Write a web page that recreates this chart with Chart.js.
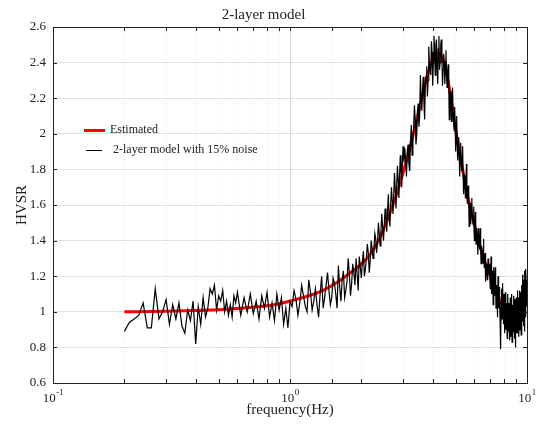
<!DOCTYPE html>
<html>
<head>
<meta charset="utf-8">
<script src="https://cdn.jsdelivr.net/npm/chart.js@4.4.1/dist/chart.umd.min.js"></script>
<style>
    html, body { margin: 0; padding: 0; background: #fff; }
    #wrap { width: 542px; height: 428px; }
</style>
</head>
<body>
<div id="wrap"><canvas id="chart" width="542" height="428"></canvas></div>
<script>
// estimated (model) curve
const estFreq = [0.2, 0.3, 0.4, 0.5, 0.6, 0.7, 0.8, 0.9, 1.0, 1.2, 1.4, 1.6, 1.8, 2.0, 2.2, 2.4, 2.6, 2.8, 3.0,
    3.2, 3.4, 3.6, 3.8, 4.0, 4.1, 4.2, 4.3, 4.4, 4.6, 4.8, 5.0, 5.3, 5.6, 6.0, 6.5, 7.0, 7.5, 8.0, 8.5, 9.0, 9.5, 10];
const estHvsr = [1.000, 1.003, 1.007, 1.012, 1.018, 1.025, 1.034, 1.045, 1.06, 1.09, 1.125, 1.17, 1.22, 1.27, 1.33, 1.42, 1.53, 1.65, 1.78,
    1.92, 2.06, 2.20, 2.33, 2.42, 2.45, 2.455, 2.45, 2.42, 2.33, 2.18, 2.02, 1.83, 1.66, 1.49, 1.32, 1.20, 1.10, 1.02, 0.97, 0.96, 1.01, 1.12];

// noisy synthetic curve
const noiseFreq = [
    0.20, 0.21, 0.22, 0.23, 0.24, 0.25, 0.26, 0.27, 0.28, 0.29,
    0.30, 0.31, 0.32, 0.33, 0.34, 0.35, 0.36, 0.37, 0.38, 0.39,
    0.40, 0.41, 0.42, 0.43, 0.44, 0.45, 0.46, 0.47, 0.48, 0.49,
    0.50, 0.51, 0.52, 0.53, 0.54, 0.55, 0.56, 0.57, 0.58, 0.59, 0.60,
    0.62, 0.64, 0.66, 0.68, 0.70, 0.72, 0.74, 0.76, 0.78, 0.80,
    0.82, 0.84, 0.86, 0.88, 0.90, 0.92, 0.94, 0.96, 0.98, 1.00,
    1.02, 1.04, 1.06, 1.08, 1.10, 1.12, 1.14, 1.16, 1.18, 1.20,
    1.22, 1.24, 1.26, 1.28, 1.30, 1.32, 1.34, 1.36, 1.38, 1.40,
    1.42, 1.44, 1.46, 1.48, 1.50, 1.52, 1.54, 1.56, 1.58, 1.60,
    1.62, 1.64, 1.66, 1.68, 1.70, 1.72, 1.74, 1.76, 1.78, 1.80,
    1.82, 1.84, 1.86, 1.88, 1.90, 1.92, 1.94, 1.96, 1.98, 2.00,
    2.02, 2.04, 2.06, 2.08, 2.10, 2.12, 2.14, 2.16, 2.18, 2.20,
    2.22, 2.24, 2.26, 2.28, 2.30, 2.32, 2.34, 2.36, 2.38, 2.40,
    2.42, 2.44, 2.46, 2.48, 2.50, 2.52, 2.54, 2.56, 2.58, 2.60,
    2.62, 2.64, 2.66, 2.68, 2.70, 2.72, 2.74, 2.76, 2.78, 2.80,
    2.82, 2.84, 2.86, 2.88, 2.90, 2.92, 2.94, 2.96, 2.98, 3.00,
    3.025, 3.05, 3.075, 3.1, 3.125, 3.15, 3.175, 3.2, 3.225, 3.25, 3.275, 3.3, 3.325, 3.35, 3.375, 3.4, 3.425, 3.45, 3.475, 3.5,
    3.525, 3.55, 3.575, 3.6, 3.625, 3.65, 3.675, 3.7, 3.725, 3.75, 3.775, 3.8, 3.825, 3.85, 3.875, 3.9, 3.925, 3.95, 3.975, 4.0,
    4.025, 4.05, 4.075, 4.1, 4.125, 4.15, 4.175, 4.2, 4.225, 4.25, 4.275, 4.3, 4.325, 4.35, 4.375, 4.4, 4.425, 4.45, 4.475, 4.5,
    4.525, 4.55, 4.575, 4.6, 4.625, 4.65, 4.675, 4.7, 4.725, 4.75, 4.775, 4.8, 4.825, 4.85, 4.875, 4.9, 4.925, 4.95, 4.975, 5.0,
    5.025, 5.05, 5.075, 5.1, 5.125, 5.15, 5.175, 5.2, 5.225, 5.25, 5.275, 5.3, 5.325, 5.35, 5.375, 5.4, 5.425, 5.45, 5.475, 5.5,
    5.525, 5.55, 5.575, 5.6, 5.625, 5.65, 5.675, 5.7, 5.725, 5.75, 5.775, 5.8, 5.825, 5.85, 5.875, 5.9, 5.925, 5.95, 5.975, 6.0,
    6.025, 6.05, 6.075, 6.1, 6.125, 6.15, 6.175, 6.2, 6.225, 6.25, 6.275, 6.3, 6.325, 6.35, 6.375, 6.4, 6.425, 6.45, 6.475, 6.5,
    6.525, 6.55, 6.575, 6.6, 6.625, 6.65, 6.675, 6.7, 6.725, 6.75, 6.775, 6.8, 6.825, 6.85, 6.875, 6.9, 6.925, 6.95, 6.975, 7.0,
    7.025, 7.05, 7.075, 7.1, 7.125, 7.15, 7.175, 7.2, 7.225, 7.25, 7.275, 7.3, 7.325, 7.35, 7.375, 7.4, 7.425, 7.45, 7.475, 7.5,
    7.525, 7.55, 7.575, 7.6, 7.625, 7.65, 7.675, 7.7, 7.725, 7.75, 7.775, 7.8, 7.825, 7.85, 7.875, 7.9, 7.925, 7.95, 7.975, 8.0,
    8.025, 8.05, 8.075, 8.1, 8.125, 8.15, 8.175, 8.2, 8.225, 8.25, 8.275, 8.3, 8.325, 8.35, 8.375, 8.4, 8.425, 8.45, 8.475, 8.5,
    8.525, 8.55, 8.575, 8.6, 8.625, 8.65, 8.675, 8.7, 8.725, 8.75, 8.775, 8.8, 8.825, 8.85, 8.875, 8.9, 8.925, 8.95, 8.975, 9.0,
    9.025, 9.05, 9.075, 9.1, 9.125, 9.15, 9.175, 9.2, 9.225, 9.25, 9.275, 9.3, 9.325, 9.35, 9.375, 9.4, 9.425, 9.45, 9.475, 9.5,
    9.525, 9.55, 9.575, 9.6, 9.625, 9.65, 9.675, 9.7, 9.725, 9.75, 9.775, 9.8, 9.825, 9.85, 9.875, 9.9, 9.925, 9.95, 9.975, 10.0
];
const noiseHvsr = [
    0.89, 0.94, 0.96, 0.98, 1.05, 0.91, 0.91, 1.13, 0.96, 1.00,
    1.07, 0.93, 1.04, 0.96, 1.05, 0.92, 0.88, 1.01, 0.95, 1.06,
    0.82, 1.03, 0.93, 1.08, 0.97, 1.02, 1.13, 1.10, 1.15, 1.01,
    1.09, 1.06, 1.12, 1.00, 1.06, 0.98, 1.04, 0.97, 1.09, 1.05, 1.11,
    0.98, 1.08, 1.00, 1.10, 0.99, 1.06, 0.96, 1.09, 1.02, 1.11,
    0.97, 1.05, 0.95, 1.10, 1.01, 1.08, 0.93, 1.02, 0.91, 1.06,
    1.03, 1.12, 1.07, 0.98, 1.05, 1.15, 1.09, 1.03, 1.00, 1.18,
    1.11, 1.01, 1.06, 1.13, 1.04, 0.97, 1.10, 1.20, 1.02, 1.08,
    1.15, 1.22, 1.12, 1.04, 1.08, 1.19, 1.16, 1.10, 1.02, 1.26,
    1.14, 1.06, 1.18, 1.23, 1.08, 1.12, 1.17, 1.30, 1.21, 1.09,
    1.16, 1.27, 1.22, 1.15, 1.30, 1.21, 1.12, 1.31, 1.25, 1.19,
    1.28, 1.34, 1.20, 1.24, 1.30, 1.38, 1.33, 1.22, 1.29, 1.40,
    1.36, 1.30, 1.35, 1.44, 1.41, 1.33, 1.39, 1.50, 1.44, 1.37,
    1.46, 1.55, 1.47, 1.40, 1.49, 1.58, 1.52, 1.45, 1.57, 1.66,
    1.53, 1.48, 1.61, 1.70, 1.62, 1.55, 1.66, 1.78, 1.69, 1.58,
    1.71, 1.82, 1.74, 1.64, 1.77, 1.88, 1.79, 1.70, 1.84, 1.93,
    1.84, 1.92, 1.85, 1.76, 1.90, 1.94, 1.83, 1.79, 1.96, 2.05, 1.88, 1.95, 2.04, 2.16, 2.08, 1.94, 1.99, 2.13, 2.17, 2.04,
    2.10, 2.33, 2.20, 2.13, 2.25, 2.32, 2.17, 2.08, 2.28, 2.32, 2.38, 2.21, 2.30, 2.49, 2.40, 2.36, 2.33, 2.52, 2.46, 2.27,
    2.40, 2.55, 2.47, 2.33, 2.50, 2.53, 2.38, 2.28, 2.48, 2.55, 2.36, 2.40, 2.50, 2.53, 2.44, 2.27, 2.36, 2.45, 2.41, 2.28,
    2.37, 2.47, 2.33, 2.26, 2.35, 2.39, 2.28, 2.08, 2.19, 2.24, 2.15, 2.07, 2.17, 2.26, 2.12, 2.07, 2.02, 2.15, 2.06, 1.90,
    1.98, 2.10, 1.96, 1.85, 1.92, 1.98, 1.90, 1.76, 1.85, 1.95, 1.87, 1.79, 1.82, 1.93, 1.78, 1.66, 1.74, 1.77, 1.73, 1.64,
    1.70, 1.83, 1.68, 1.61, 1.66, 1.71, 1.62, 1.48, 1.57, 1.61, 1.56, 1.49, 1.57, 1.64, 1.54, 1.51, 1.52, 1.59, 1.50, 1.40,
    1.48, 1.56, 1.46, 1.38, 1.44, 1.47, 1.43, 1.32, 1.40, 1.47, 1.39, 1.35, 1.38, 1.47, 1.35, 1.27, 1.34, 1.37, 1.33, 1.27,
    1.31, 1.41, 1.30, 1.25, 1.29, 1.33, 1.28, 1.17, 1.25, 1.27, 1.24, 1.18, 1.22, 1.30, 1.23, 1.21, 1.24, 1.27, 1.20, 1.13,
    1.18, 1.31, 1.19, 1.10, 1.16, 1.23, 1.17, 1.04, 1.13, 1.25, 1.14, 1.09, 1.12, 1.25, 1.13, 1.02, 1.08, 1.15, 1.09, 0.97,
    1.06, 1.20, 1.10, 1.02, 1.05, 1.14, 1.07, 0.95, 1.02, 0.79, 1.04, 1.13, 1.03, 0.96, 1.06, 1.16, 1.01, 0.93, 1.02, 1.10,
    1.00, 0.88, 0.97, 1.11, 1.01, 0.90, 0.95, 1.05, 0.99, 0.85, 0.93, 1.10, 1.00, 0.89, 0.94, 1.05, 0.98, 0.84, 0.92, 1.08,
    0.99, 0.86, 0.95, 1.10, 0.97, 0.83, 0.92, 1.04, 0.99, 0.89, 0.94, 1.09, 0.98, 0.85, 0.93, 1.07, 0.96, 0.80, 0.92, 1.08,
    0.99, 0.88, 0.95, 1.12, 1.01, 0.88, 0.96, 1.08, 0.99, 0.86, 0.94, 1.12, 1.02, 0.90, 0.97, 1.11, 1.00, 0.87, 0.98, 1.15,
    1.05, 0.95, 1.00, 1.21, 1.07, 0.92, 1.02, 1.18, 1.05, 0.89, 1.00, 1.23, 1.10, 0.97, 1.04, 1.24, 1.12, 1.03, 1.08, 1.18
];

const xDecades = [-1, 0, 1];
const legendLabels = ["Estimated", "2-layer model with 15% noise"];

const serif = "'Liberation Serif', 'Times New Roman', serif";
const textColor = "#222";

function isDecade(v) {
    const l = Math.log10(v);
    return Math.abs(l - Math.round(l)) < 1e-6;
}

// legend sits inside the plot, left side
let insideLegend = {
    id: "insideLegend",
    afterDraw: (chart) => {
        const {ctx} = chart;
        ctx.save();
        ctx.lineCap = "butt";
        ctx.strokeStyle = "#ff0000";
        ctx.lineWidth = 3;
        ctx.beginPath();
        ctx.moveTo(84, 130.5);
        ctx.lineTo(105, 130.5);
        ctx.stroke();
        ctx.strokeStyle = "#000";
        ctx.lineWidth = 1;
        ctx.beginPath();
        ctx.moveTo(86, 150.5);
        ctx.lineTo(102, 150.5);
        ctx.stroke();
        ctx.fillStyle = textColor;
        ctx.font = "12px " + serif;
        ctx.textBaseline = "middle";
        ctx.fillText(legendLabels[0], 110, 130);
        ctx.fillText(legendLabels[1], 113, 150);
        ctx.restore();
    }
}

// box frame, inward ticks and 10^n labels
let frameTicks = {
    id: "frameTicks",
    afterDraw: (chart) => {
        const {ctx, chartArea: {top, bottom, left, right}, scales: {x, y}} = chart;
        ctx.save();
        ctx.strokeStyle = "#222";
        ctx.lineWidth = 1;
        ctx.beginPath();
        x.ticks.forEach(t => {
            const px = Math.round(x.getPixelForValue(t.value)) + 0.5;
            ctx.moveTo(px, top);
            ctx.lineTo(px, top + 4);
            ctx.moveTo(px, bottom);
            ctx.lineTo(px, bottom - 4);
        });
        y.ticks.forEach(t => {
            const py = Math.round(y.getPixelForValue(t.value)) + 0.5;
            ctx.moveTo(left, py);
            ctx.lineTo(left + 4, py);
            ctx.moveTo(right, py);
            ctx.lineTo(right - 4, py);
        });
        ctx.stroke();
        ctx.strokeRect(Math.round(left) + 0.5, Math.round(top) + 0.5, Math.round(right - left), Math.round(bottom - top));

        ctx.fillStyle = textColor;
        ctx.textBaseline = "alphabetic";
        ctx.textAlign = "left";
        xDecades.forEach(e => {
            const px = x.getPixelForValue(Math.pow(10, e));
            const base = "10", sup = String(e);
            ctx.font = "13px " + serif;
            const w1 = ctx.measureText(base).width;
            ctx.font = "9px " + serif;
            const w2 = ctx.measureText(sup).width;
            const x0 = px - (w1 + w2) / 2;
            ctx.font = "13px " + serif;
            ctx.fillText(base, x0, bottom + 19);
            ctx.font = "9px " + serif;
            ctx.fillText(sup, x0 + w1 + 0.5, bottom + 12);
        });
        ctx.restore();
    }
}

let scalesOptions = {
    x: {
        type: "logarithmic",
        min: 0.1,
        max: 10,
        afterFit: (scale) => { scale.height = 45; },
        grid: {
            drawTicks: false,
            lineWidth: 1,
            color: (c) => c.tick && isDecade(c.tick.value) ? "#d9d9d9" : "#e4e4e4"
        },
        border: {
            display: false,
            dash: (c) => c.tick && !isDecade(c.tick.value) ? [1, 3] : []
        },
        ticks: {
            autoSkip: false,
            maxRotation: 0,
            padding: 6,
            font: {family: serif, size: 13},
            callback: () => ""
        },
        title: {
            display: true,
            text: "frequency(Hz)",
            color: textColor,
            font: {family: serif, size: 15},
            padding: {top: 0, bottom: 9}
        }
    },
    y: {
        type: "linear",
        min: 0.6,
        max: 2.6,
        afterFit: (scale) => { scale.width = 53; },
        grid: {
            drawTicks: false,
            color: "#e0e0e0",
            lineWidth: 1
        },
        border: {display: false},
        ticks: {
            stepSize: 0.2,
            padding: 7,
            color: textColor,
            font: {family: serif, size: 13},
            callback: (value) => String(Math.round(value * 10) / 10)
        },
        title: {
            display: true,
            text: "HVSR",
            color: textColor,
            font: {family: serif, size: 15},
            padding: {top: 13, bottom: 0}
        }
    }
}

let pluginsOptions = {
    legend: {display: false},
    tooltip: {enabled: false},
    title: {
        display: true,
        text: "2-layer model",
        color: textColor,
        font: {family: serif, size: 15, weight: "normal"},
        padding: {top: 6, bottom: 3}
    }
}

let data = {
    datasets: [
        {
            label: legendLabels[0],
            data: estFreq.map((f, i) => ({x: f, y: estHvsr[i]})),
            borderColor: "#ff0000",
            borderWidth: 3,
            pointRadius: 0,
            cubicInterpolationMode: "monotone",
            order: 1
        },
        {
            label: legendLabels[1],
            data: noiseFreq.map((f, i) => ({x: f, y: noiseHvsr[i]})),
            borderColor: "#000000",
            borderWidth: 1.2,
            pointRadius: 0,
            tension: 0,
            order: 0
        }
    ]
}

new Chart(document.getElementById("chart"), {
    type: "line",
    data: data,
    plugins: [insideLegend, frameTicks],
    options: {
        responsive: false,
        animation: false,
        layout: {padding: {left: 0, right: 15, top: 0, bottom: 0}},
        plugins: pluginsOptions,
        scales: scalesOptions
    }
});
</script>
</body>
</html>
